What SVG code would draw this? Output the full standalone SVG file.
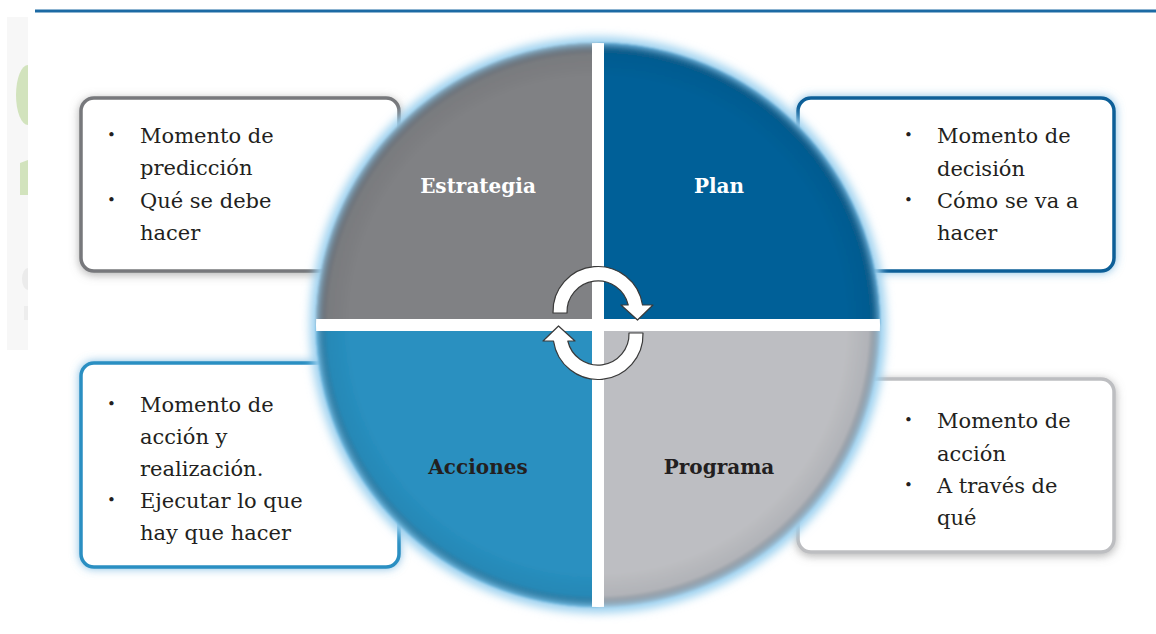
<svg xmlns="http://www.w3.org/2000/svg" width="1156" height="634" viewBox="0 0 1156 634">
<defs>
  <style>
    .txt { font-family: "DejaVu Serif", "Liberation Serif", serif; font-size: 21px; fill: #231f20; }
    .bul { font-family: "DejaVu Serif", "Liberation Serif", serif; font-size: 15px; fill: #231f20; }
    .lbl { font-family: "DejaVu Serif", "Liberation Serif", serif; font-size: 20px; font-weight: bold; text-anchor: middle; }
    .box { fill: #ffffff; stroke-width: 3.5; }
    .arrow { fill: #ffffff; stroke: #3a3a3a; stroke-width: 1.2; stroke-linejoin: round; }
  </style>
  <filter id="grayShadow" x="-20%" y="-20%" width="140%" height="140%">
    <feDropShadow dx="0" dy="2" stdDeviation="5" flood-color="#7a7a7a" flood-opacity="0.6"/>
  </filter>
  <filter id="blueGlow" x="-20%" y="-20%" width="140%" height="140%">
    <feDropShadow dx="0" dy="0" stdDeviation="5" flood-color="#4fa3d6" flood-opacity="0.7"/>
  </filter>
  <filter id="circGlow" x="-20%" y="-20%" width="140%" height="140%">
    <feGaussianBlur stdDeviation="5"/>
  </filter>
  <filter id="soft" x="-5%" y="-5%" width="110%" height="110%">
    <feGaussianBlur stdDeviation="1.2"/>
  </filter>
  <radialGradient id="edge" gradientUnits="userSpaceOnUse" cx="598" cy="325" r="282">
    <stop offset="0" stop-color="#000000" stop-opacity="0"/>
    <stop offset="0.88" stop-color="#000000" stop-opacity="0"/>
    <stop offset="0.96" stop-color="#1b2a3a" stop-opacity="0.07"/>
    <stop offset="1" stop-color="#8fcbef" stop-opacity="0.7"/>
  </radialGradient>
  <clipPath id="circClip">
    <circle cx="598" cy="325" r="282"/>
  </clipPath>
</defs>

<rect x="0" y="0" width="1156" height="634" fill="#ffffff"/>

<!-- faint background remnants at left edge -->
<g id="background-remnants">
  <rect x="7" y="17" width="21" height="333" fill="#f7f7f7"/>
  <path d="M28,65 A12,30 0 0 0 28,125 Z" fill="#d2e3bd"/>
  <path d="M20,163 L28,160 L28,195 L20,195 Z" fill="#d2e3bd"/>
  <path d="M28,268 A6,11 0 0 0 28,290 Z" fill="#ebebeb"/>
  <rect x="24" y="306" width="4" height="14" fill="#ededed"/>
</g>

<!-- top rule -->
<line x1="35" y1="11" x2="1156" y2="11" stroke="#1c6aa4" stroke-width="3"/>

<!-- description boxes -->
<g id="box-estrategia">
  <rect class="box" x="81" y="98" width="318" height="173" rx="13" stroke="#77787b" filter="url(#grayShadow)"/>
  <text class="bul" x="107" y="140">•</text>
  <text class="txt" x="140" y="143">Momento de</text>
  <text class="txt" x="140" y="175">predicción</text>
  <text class="bul" x="107" y="205">•</text>
  <text class="txt" x="140" y="208">Qué se debe</text>
  <text class="txt" x="140" y="240">hacer</text>
</g>

<g id="box-plan">
  <rect class="box" x="798" y="98" width="316" height="173" rx="13" stroke="#0a5f98" filter="url(#blueGlow)"/>
  <text class="bul" x="904" y="140">•</text>
  <text class="txt" x="937" y="143">Momento de</text>
  <text class="txt" x="937" y="176">decisión</text>
  <text class="bul" x="904" y="205">•</text>
  <text class="txt" x="937" y="208">Cómo se va a</text>
  <text class="txt" x="937" y="240">hacer</text>
</g>

<g id="box-acciones">
  <rect class="box" x="81" y="363" width="318" height="204" rx="13" stroke="#2a8fc2" filter="url(#blueGlow)"/>
  <text class="bul" x="107" y="409">•</text>
  <text class="txt" x="140" y="412">Momento de</text>
  <text class="txt" x="140" y="444">acción y</text>
  <text class="txt" x="140" y="476">realización.</text>
  <text class="bul" x="107" y="505">•</text>
  <text class="txt" x="140" y="508">Ejecutar lo que</text>
  <text class="txt" x="140" y="540">hay que hacer</text>
</g>

<g id="box-programa">
  <rect class="box" x="798" y="379" width="316" height="173" rx="13" stroke="#bdbec1" filter="url(#grayShadow)"/>
  <text class="bul" x="904" y="425">•</text>
  <text class="txt" x="937" y="428">Momento de</text>
  <text class="txt" x="937" y="461">acción</text>
  <text class="bul" x="904" y="490">•</text>
  <text class="txt" x="937" y="493">A través de</text>
  <text class="txt" x="937" y="525">qué</text>
</g>

<!-- central circle -->
<g id="cycle-circle">
  <circle cx="598" cy="325" r="288" fill="#9bd0ef" filter="url(#circGlow)"/>
  <g filter="url(#soft)">
    <path id="q-estrategia" d="M598,325 L316,325 A282,282 0 0 1 598,43 Z" fill="#808184"/>
    <path id="q-plan" d="M598,325 L598,43 A282,282 0 0 1 880,325 Z" fill="#006098"/>
    <path id="q-programa" d="M598,325 L880,325 A282,282 0 0 1 598,607 Z" fill="#bdbec2"/>
    <path id="q-acciones" d="M598,325 L598,607 A282,282 0 0 1 316,325 Z" fill="#2990c0"/>
    <circle cx="598" cy="325" r="282" fill="url(#edge)"/>
  </g>
  <g clip-path="url(#circClip)" fill="#ffffff">
    <rect x="592" y="36" width="12" height="580"/>
    <rect x="308" y="319" width="580" height="12"/>
  </g>
</g>

<g id="label-estrategia"><text class="lbl" x="478" y="193" fill="#ffffff">Estrategia</text></g>
<g id="label-plan"><text class="lbl" x="719" y="193" fill="#ffffff">Plan</text></g>
<g id="label-acciones"><text class="lbl" x="478" y="474" fill="#231f20">Acciones</text></g>
<g id="label-programa"><text class="lbl" x="719" y="474" fill="#231f20">Programa</text></g>

<!-- cycle arrows -->
<g id="connectors">
  <path class="arrow" d="M553,313 A45,45 0 0 1 642.5,305 L653,305 L637.5,320 L621,305 L628.2,305 A31,31 0 0 0 567,313 Z"/>
  <path class="arrow" transform="rotate(180 598 323)" d="M553,313 A45,45 0 0 1 642.5,305 L653,305 L637.5,320 L621,305 L628.2,305 A31,31 0 0 0 567,313 Z"/>
</g>
</svg>
